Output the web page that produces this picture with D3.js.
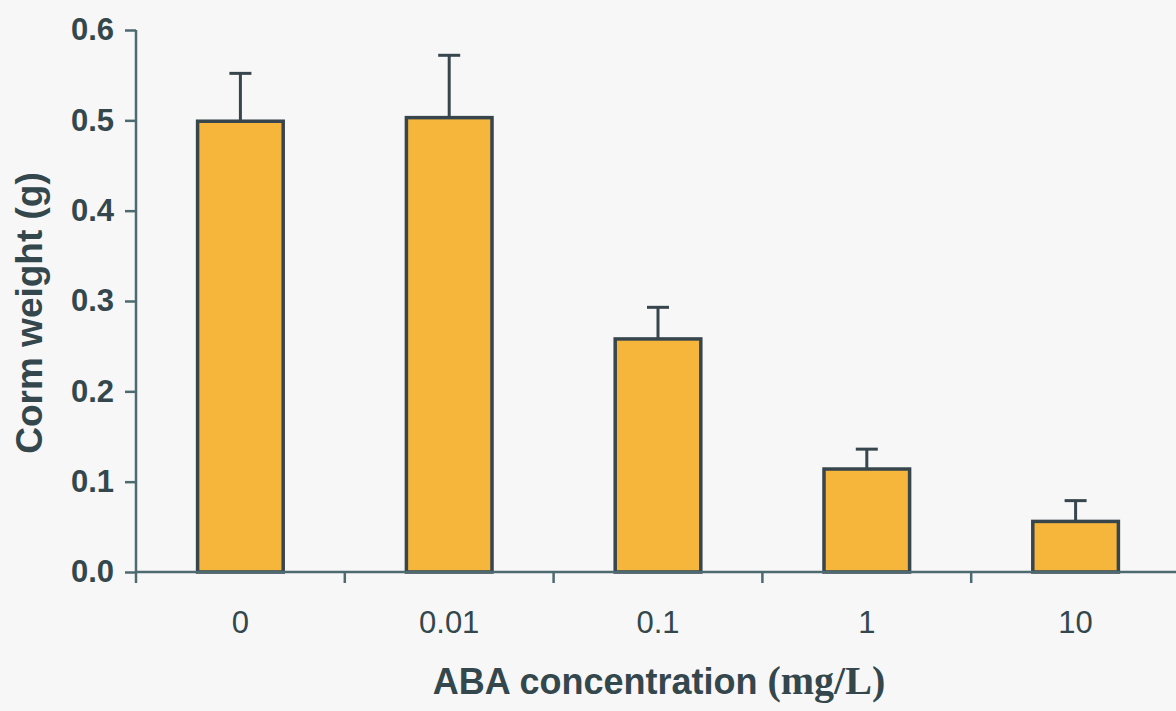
<!DOCTYPE html>
<html>
<head>
<meta charset="utf-8">
<script src="https://cdn.jsdelivr.net/npm/d3@7/dist/d3.min.js"></script>
<style>
  html, body { margin: 0; padding: 0; background: #f7f7f7; }
  svg { display: block; }
</style>
</head>
<body>
<script>
const categories = ["0", "0.01", "0.1", "1", "10"];
const values = [0.499, 0.503, 0.258, 0.114, 0.056];
const errors = [0.053, 0.069, 0.035, 0.022, 0.023];
const yTicks = [0.0, 0.1, 0.2, 0.3, 0.4, 0.5, 0.6];

const W = 1176, H = 711;
const svg = d3.select("body").append("svg").attr("width", W).attr("height", H);
svg.append("rect").attr("width", W).attr("height", H).attr("fill", "#f7f7f7");

const mLeft = 136, mRight = 1180, mTop = 30, mBottom = 572;
const x = d3.scaleBand().domain(categories).range([mLeft, mRight]).paddingInner(0.59).paddingOuter(0.295);
const y = d3.scaleLinear().domain([0, 0.6]).range([mBottom, mTop]);

const axisColor = "#4d6a70";
const textColor = "#33474d";
const barStroke = "#37454c";

// bars
svg.selectAll("rect.bar").data(values).enter().append("rect")
  .attr("class", "bar")
  .attr("x", (d, i) => x(categories[i]))
  .attr("y", d => y(d))
  .attr("width", x.bandwidth())
  .attr("height", d => y(0) - y(d))
  .attr("fill", "#f6b53b")
  .attr("stroke", barStroke)
  .attr("stroke-width", 3.5);

// error bars
const eb = svg.append("g").attr("stroke", barStroke).attr("stroke-width", 3);
values.forEach((v, i) => {
  const cx = x(categories[i]) + x.bandwidth() / 2;
  eb.append("line").attr("x1", cx).attr("x2", cx).attr("y1", y(v)).attr("y2", y(v + errors[i]));
  eb.append("line").attr("x1", cx - 11).attr("x2", cx + 11).attr("y1", y(v + errors[i])).attr("y2", y(v + errors[i]));
});

// y axis
const yAxis = svg.append("g").attr("transform", `translate(${mLeft},0)`)
  .call(d3.axisLeft(y).tickValues(yTicks).tickFormat(d3.format(".1f")).tickSize(11).tickPadding(11));
yAxis.select(".domain").attr("stroke", axisColor).attr("stroke-width", 2.5).attr("d", `M0,${mTop}V${mBottom}`);
yAxis.selectAll(".tick line").attr("stroke", axisColor).attr("stroke-width", 2.5);
yAxis.selectAll(".tick text").attr("fill", textColor)
  .style("font-family", "Liberation Sans, Arial, sans-serif").style("font-size", "31px").style("font-weight", "bold");

// x axis
const xAxis = svg.append("g").attr("transform", `translate(0,${mBottom})`)
  .call(d3.axisBottom(x).tickSize(0).tickPadding(39));
xAxis.select(".domain").attr("stroke", axisColor).attr("stroke-width", 2.5).attr("d", `M${mLeft},0H${W}`);
xAxis.selectAll(".tick text").attr("fill", textColor)
  .style("font-family", "Liberation Sans, Arial, sans-serif").style("font-size", "31px");
// boundary ticks
const bounds = categories.map(c => x(c) - x.step() * x.paddingInner() / 2);
bounds[0] = mLeft;
xAxis.selectAll("line.bound").data(bounds).enter().append("line")
  .attr("class", "bound")
  .attr("x1", d => d).attr("x2", d => d).attr("y1", 0).attr("y2", 11)
  .attr("stroke", axisColor).attr("stroke-width", 2.5);

// y label
svg.append("text")
  .attr("transform", `translate(42,313) rotate(-90)`)
  .attr("text-anchor", "middle")
  .attr("fill", textColor)
  .style("font-family", "Liberation Sans, Arial, sans-serif").style("font-size", "37px").style("font-weight", "bold")
  .text("Corm weight (g)");

// x label
const xl = svg.append("text")
  .attr("x", 659).attr("y", 694)
  .attr("text-anchor", "middle")
  .attr("fill", textColor)
  .style("font-family", "Liberation Sans, Arial, sans-serif").style("font-size", "36px").style("font-weight", "bold");
xl.append("tspan").text("ABA concentration ");
xl.append("tspan").style("font-family", "Liberation Serif, Times New Roman, serif").style("font-size", "40px").text("(mg/L)");
</script>
</body>
</html>
